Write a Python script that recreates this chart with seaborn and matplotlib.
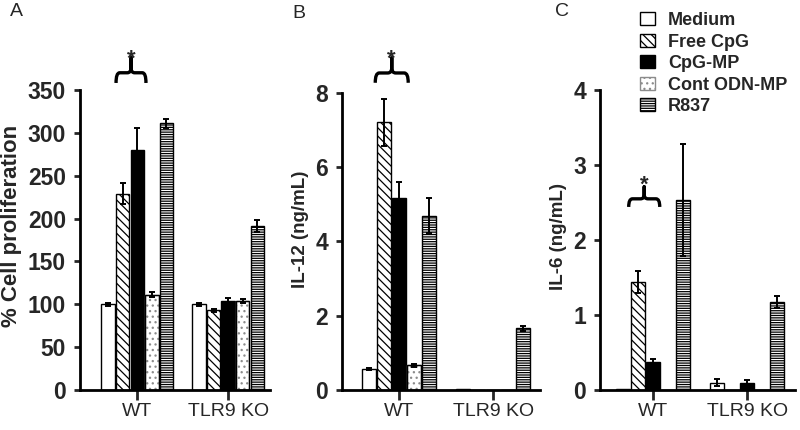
import numpy as np
import pandas as pd
import matplotlib
matplotlib.use("Agg")
import matplotlib.pyplot as plt
import matplotlib.transforms as mtransforms
from matplotlib.path import Path
from matplotlib.patches import PathPatch, Patch, Rectangle
import seaborn as sns

# ---------------- data ----------------
strains = ["WT", "TLR9 KO"]
treatments = ["Medium", "Free CpG", "CpG-MP", "Cont ODN-MP", "R837"]

# panel A: % cell proliferation (rows = strain, cols = treatment)
prolif_mean = [[100, 229, 280, 111, 311],
               [100, 93, 104, 104, 191]]
prolif_err = [[2, 12, 25, 3, 5],
              [2, 2, 3, 2, 7]]

# panel B: IL-12 (ng/mL)
il12_mean = [[0.56, 7.21, 5.18, 0.66, 4.69],
             [0.03, 0.01, 0.01, 0.01, 1.66]]
il12_err = [[0.03, 0.63, 0.41, 0.03, 0.47],
            [0.0, 0.0, 0.0, 0.0, 0.07]]

# panel C: IL-6 (ng/mL)
il6_mean = [[0.01, 1.44, 0.37, 0.0, 2.53],
            [0.10, 0.0, 0.09, 0.0, 1.17]]
il6_err = [[0.0, 0.15, 0.04, 0.0, 0.75],
           [0.05, 0.0, 0.05, 0.0, 0.08]]

face = {"Medium": "white", "Free CpG": "white", "CpG-MP": "black",
        "Cont ODN-MP": "white", "R837": "white"}
hatches = {"Medium": "", "Free CpG": "\\\\\\\\", "CpG-MP": "",
           "Cont ODN-MP": "...", "R837": "-------"}
hatch_col = {"Cont ODN-MP": "0.55"}

sns.set_theme(style="white")
plt.rcParams["font.family"] = ["Liberation Sans", "DejaVu Sans"]
plt.rcParams["hatch.linewidth"] = 0.9


def to_frame(mean):
    rows = []
    for i, s in enumerate(strains):
        for j, t in enumerate(treatments):
            rows.append({"strain": s, "treatment": t, "value": mean[i][j]})
    return pd.DataFrame(rows)


def brace(ax, x0, x1, ybar, yend, ytop, ystar):
    # curly brace opening downwards, star on top of the stem
    tr = mtransforms.blended_transform_factory(ax.transData, ax.transAxes)
    xm = (x0 + x1) / 2
    r = (x1 - x0) * 0.12
    h = (ytop - ybar) * 0.35
    verts = [(x0, yend), (x0, ybar), (x0 + r, ybar),
             (xm - r, ybar), (xm, ybar), (xm, ybar + h),
             (xm, ytop), (xm, ybar + h),
             (xm, ybar), (xm + r, ybar),
             (x1 - r, ybar), (x1, ybar), (x1, yend)]
    codes = [Path.MOVETO, Path.CURVE3, Path.CURVE3,
             Path.LINETO, Path.CURVE3, Path.CURVE3,
             Path.LINETO, Path.LINETO,
             Path.CURVE3, Path.CURVE3,
             Path.LINETO, Path.CURVE3, Path.CURVE3]
    ax.add_patch(PathPatch(Path(verts, codes), transform=tr, fill=False,
                           lw=2.4, color="black", clip_on=False,
                           capstyle="butt", joinstyle="round"))
    ax.text(xm, ystar, "*", transform=tr, ha="center", va="baseline",
            fontsize=16, fontweight="bold", clip_on=False)


def panel(ax, mean, err, ymax, yticks, ylabel, xlim, label_xy, label_size):
    df = to_frame(mean)
    sns.barplot(data=df, x="strain", y="value", hue="treatment",
                order=strains, hue_order=treatments, palette=face,
                errorbar=None, width=0.8, gap=0.08, edgecolor="black",
                linewidth=1.0, legend=False, ax=ax)
    bars = list(ax.containers)
    for k, cont in enumerate(bars):
        t = treatments[k]
        xs, ys, es = [], [], []
        for i, bar in enumerate(cont):
            bar.set_hatch(hatches[t])
            if t in hatch_col:
                # light hatch colour, black outline drawn on top
                bar.set_edgecolor(hatch_col[t])
                ax.add_patch(Rectangle(bar.get_xy(), bar.get_width(), bar.get_height(),
                                       fill=False, edgecolor="black", lw=1.0, zorder=bar.get_zorder()))
            else:
                bar.set_edgecolor("black")
            xs.append(bar.get_x() + bar.get_width() / 2)
            ys.append(mean[i][k])
            es.append(err[i][k])
        es = np.array(es)
        keep = es > 0
        if keep.any():
            ax.errorbar(np.array(xs)[keep], np.array(ys)[keep], yerr=es[keep],
                        fmt="none", ecolor="black", elinewidth=1.4,
                        capsize=2.5, capthick=1.4, zorder=5)
    ax.set_ylim(0, ymax)
    ax.set_xlim(*xlim)
    ax.set_yticks(yticks)
    ax.set_yticklabels([str(v) for v in yticks], fontsize=16.5, fontweight="bold")
    ax.set_xticks(range(len(strains)))
    ax.set_xticklabels(strains, fontsize=14)
    ax.set_xlabel("")
    ax.set_ylabel(ylabel, fontsize=label_size, fontweight="bold")
    ax.yaxis.set_label_coords(*label_xy)
    for s in ["top", "right"]:
        ax.spines[s].set_visible(False)
    for s in ["left", "bottom"]:
        ax.spines[s].set_linewidth(2.0)
        ax.spines[s].set_color("black")
    ax.tick_params(axis="y", direction="out", length=4, width=2, pad=6,
                   left=True)
    ax.tick_params(axis="x", direction="out", length=7, width=2, pad=2,
                   bottom=True)
    return [bars[k][0].get_x() for k in range(len(treatments))], bars[0][0].get_width()


fig = plt.figure(figsize=(8, 4.3), dpi=100)
axA = fig.add_axes([0.100, 0.093, 0.2375, 0.698])
axB = fig.add_axes([0.4275, 0.093, 0.2475, 0.691])
axC = fig.add_axes([0.750, 0.093, 0.244, 0.698])

lefts, w = panel(axA, prolif_mean, prolif_err, 350, [0, 50, 100, 150, 200, 250, 300, 350],
                 "% Cell proliferation", (-0.63, 1.46), (-0.305, 0.547), 16)
brace(axA, lefts[1], lefts[2] + w * 1.15, 1.057, 1.023, 1.107, 1.083)

lefts, w = panel(axB, il12_mean, il12_err, 8, [0, 2, 4, 6, 8],
                 "IL-12 (ng/mL)", (-0.61, 1.5), (-0.167, 0.54), 13.5)
brace(axB, lefts[1] - w * 0.15, lefts[2] + w * 1.15, 1.067, 1.034, 1.117, 1.094)

lefts, w = panel(axC, il6_mean, il6_err, 4, [0, 1, 2, 3, 4],
                 "IL-6 (ng/mL)", (-0.56, 1.51), (-0.17, 0.51), 13.5)
brace(axC, lefts[1] - w * 0.15, lefts[2] + w * 1.0, 0.637, 0.61, 0.677, 0.663)

fig.text(10 / 800, 1 - 12 / 430, "A", fontsize=14, va="center")
fig.text(292 / 800, 1 - 14 / 430, "B", fontsize=14, va="center")
fig.text(555 / 800, 1 - 12 / 430, "C", fontsize=14, va="center")

handles = [Patch(facecolor=face[t], edgecolor=hatch_col.get(t, "black"), hatch=hatches[t],
                 linewidth=1.0, label=t) for t in treatments]
fig.legend(handles=handles, loc="upper left", bbox_to_anchor=(631 / 800, 1 - 3 / 430),
           frameon=False, borderpad=0, handlelength=0.85, handleheight=0.75,
           handletextpad=0.7, labelspacing=0.25,
           prop={"size": 13, "weight": "bold"})

fig.savefig("out.png", dpi=100)
